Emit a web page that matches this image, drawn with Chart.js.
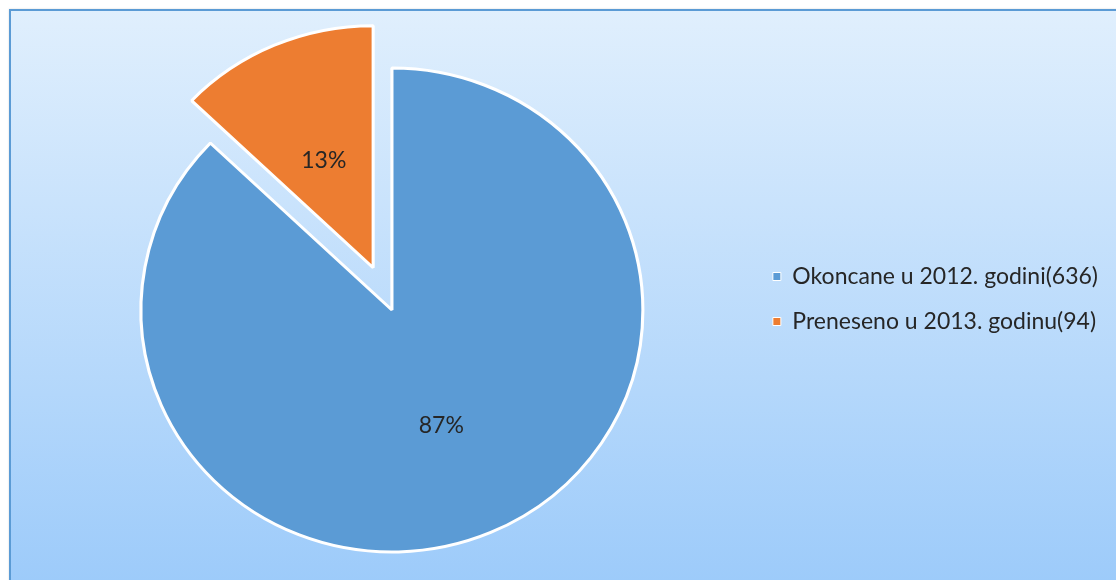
<!DOCTYPE html>
<html>
<head>
<meta charset="utf-8">
<script src="https://cdn.jsdelivr.net/npm/chart.js@4.4.1/dist/chart.umd.min.js"></script>
<style>
  html, body { margin: 0; padding: 0; background: #fff; }
  #wrap { position: relative; width: 1116px; height: 580px; overflow: hidden; }
  #frame {
    position: absolute; left: 9px; top: 9px; width: 1110px; height: 571px;
    border: 2px solid #5b9bd5;
    box-shadow: 0 0 2px rgba(0, 0, 0, 0.15);
    background: linear-gradient(#e0effd, #9dcbfa);
  }
  #chart { position: absolute; left: 0; top: 0; }
</style>
</head>
<body>
<div id="wrap">
  <div id="frame"></div>
  <canvas id="chart" width="1116" height="580"></canvas>
</div>
<script>
const categories = ['Okoncane u 2012. godini', 'Preneseno u 2013. godinu'];
const counts = [636, 94];

const sliceColors = ['#5b9bd5', '#ed7d31'];
const EXPLODE_INDEX = 1;   // orange slice is pulled out
const EXPLODE_PX = 46;
const STRETCH_X = 1.037;   // pie in the original is a bit wider than tall
const LEGEND_SHIFT = 11;
const LABEL_DY = 4;

const total = counts.reduce((a, b) => a + b, 0);

const piePlugin = {
  id: 'pieTweaks',
  afterLayout(chart) {
    chart.legend.top -= LEGEND_SHIFT;
    chart.legend.bottom -= LEGEND_SHIFT;
  },
  afterUpdate(chart) {
    const arc = chart.getDatasetMeta(0).data[EXPLODE_INDEX];
    const mid = (arc.startAngle + arc.endAngle) / 2;
    arc.x += Math.cos(mid) * EXPLODE_PX;
    arc.y += Math.sin(mid) * EXPLODE_PX;
  },
  beforeDatasetsDraw(chart) {
    const { ctx, chartArea } = chart;
    const cx = (chartArea.left + chartArea.right) / 2;
    ctx.save();
    ctx.translate(cx, 0);
    ctx.scale(STRETCH_X, 1);
    ctx.translate(-cx, 0);
  },
  afterDatasetsDraw(chart) {
    const { ctx, chartArea } = chart;
    ctx.restore();
    const cx = (chartArea.left + chartArea.right) / 2;
    ctx.save();
    ctx.font = '23px Lato';
    ctx.fillStyle = '#262626';
    ctx.textAlign = 'center';
    ctx.textBaseline = 'middle';
    chart.getDatasetMeta(0).data.forEach((arc, i) => {
      const p = arc.tooltipPosition();
      const pct = Math.round(counts[i] / total * 100) + '%';
      ctx.fillText(pct, cx + (p.x - cx) * STRETCH_X, p.y + LABEL_DY);
    });
    ctx.restore();
  }
};

new Chart(document.getElementById('chart'), {
  type: 'pie',
  data: {
    labels: categories.map((c, i) => c + '(' + counts[i] + ')'),
    datasets: [{
      data: counts,
      backgroundColor: sliceColors,
      borderColor: '#ffffff',
      borderWidth: 3
    }]
  },
  options: {
    responsive: false,
    animation: false,
    devicePixelRatio: 1,
    radius: 242,
    layout: { padding: { left: 33, right: 8, top: 40, bottom: 0 } },
    plugins: {
      tooltip: { enabled: false },
      legend: {
        position: 'right',
        labels: {
          boxWidth: 8,
          boxHeight: 8,
          padding: 22,
          color: '#262626',
          font: { family: 'Lato', size: 23 },
          generateLabels: c => Chart.overrides.doughnut.plugins.legend.labels.generateLabels(c)
            .map(item => Object.assign(item, { lineWidth: 1 }))
        }
      }
    }
  },
  plugins: [piePlugin]
});
</script>
</body>
</html>
